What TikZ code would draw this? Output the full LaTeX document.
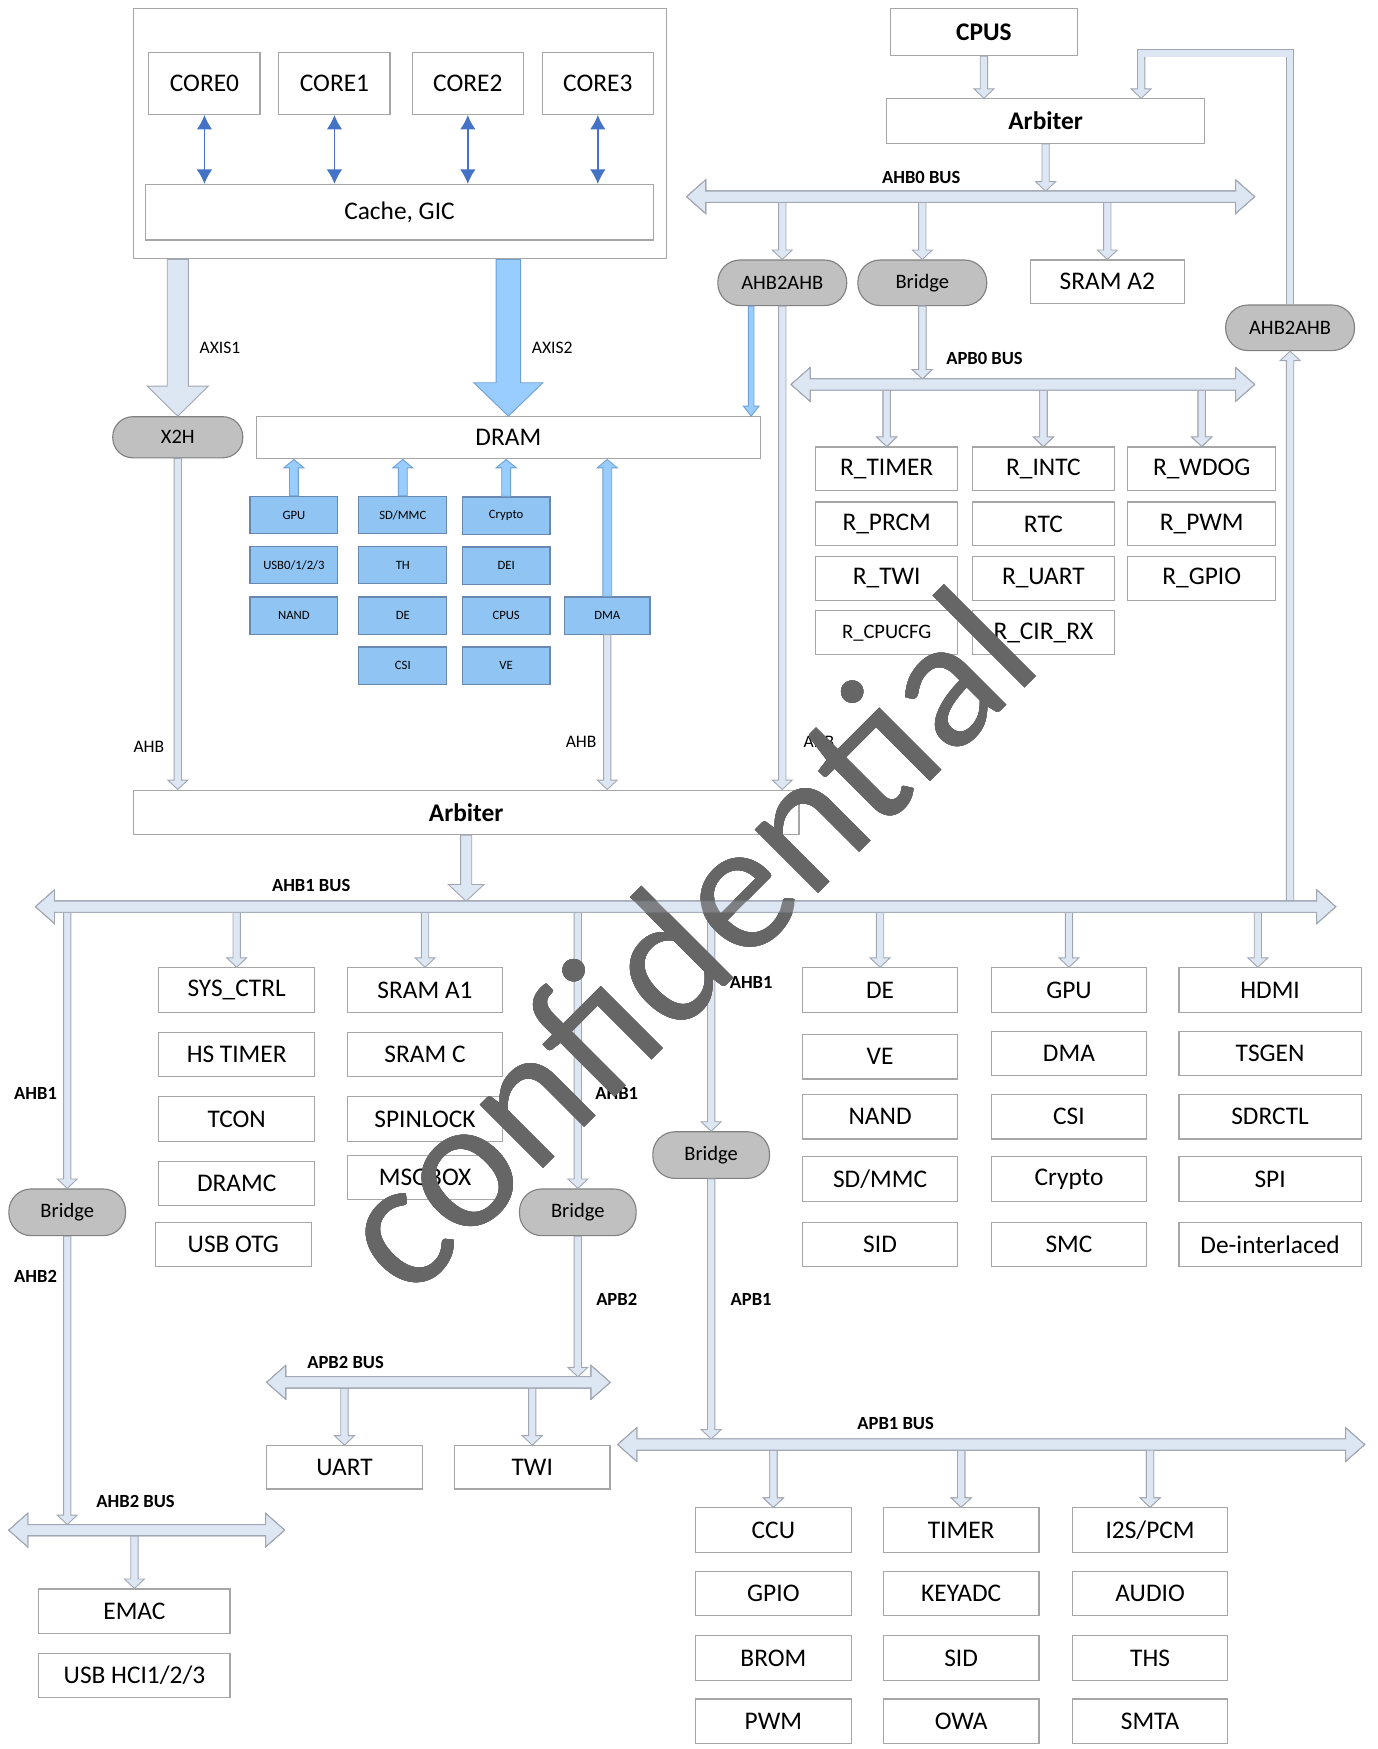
\documentclass[tikz,border=0pt]{standalone}
\usepackage{fontspec}
\setmainfont{Carlito}
\usepackage{tikz}
\usetikzlibrary{arrows.meta,calc,positioning}
\definecolor{rahmen}{RGB}{166,166,166}
\definecolor{rohrrand}{RGB}{160,166,178}
\definecolor{rohrfill}{RGB}{221,231,243}
\definecolor{pillgrau}{RGB}{192,192,192}
\definecolor{pillrand}{RGB}{128,128,128}
\definecolor{blaukasten}{RGB}{143,196,243}
\definecolor{blaurand}{RGB}{105,135,175}
\definecolor{axisblau}{RGB}{153,204,255}
\definecolor{axisrand}{RGB}{110,160,212}
\definecolor{kernblau}{RGB}{68,114,196}
\tikzset{
  kasten/.style={draw=rahmen, line width=0.2mm, fill=white, minimum width=28mm, minimum height=8mm, inner sep=0pt, font=\fontsize{13}{15}\selectfont},
  fett/.style={font=\fontsize{13}{15}\selectfont\bfseries},
  pille/.style={draw=pillrand, line width=0.2mm, fill=pillgrau, rounded corners=4mm, minimum width=23.2mm, minimum height=8.2mm, inner sep=0pt, font=\fontsize{10.5}{12}\selectfont},
  blau/.style={draw=blaurand, line width=0.2mm, fill=blaukasten, minimum width=15.8mm, minimum height=6.7mm, inner sep=0pt, font=\fontsize{6.5}{7}\selectfont},
  busname/.style={font=\fontsize{9.5}{11}\selectfont\bfseries},
  klein/.style={font=\fontsize{9}{10}\selectfont},
  pipe/.style={draw=rohrrand, fill=rohrfill, line width=0.16mm, line join=miter},
  rohrlinie/.style={draw=rohrrand, line width=0.16mm, double=rohrfill, double distance=1.16mm, line join=miter},
  bluepipe/.style={draw=axisrand, fill=axisblau, line width=0.16mm, line join=miter},
  axispfeil/.style={draw=axisrand, fill=axisblau, line width=0.16mm, line join=miter},
  kernpfeil/.style={draw=kernblau, line width=0.25mm, {Latex[length=2.6mm,width=2.8mm]}-{Latex[length=2.6mm,width=2.8mm]}}
}
%#1 Stil, #2 halbe Schaftbreite, #3 halbe Spitzenbreite, #4 Spitzenlaenge, #5 Start, #6 Ende
\newcommand\pfeil[6]{%
  \path ($(#6)!#4!(#5)$) coordinate (pm);
  \draw[#1] ($(#5)!#2!90:(#6)$) -- ($(pm)!#2!90:(#6)$) -- ($(pm)!#3!90:(#6)$) -- (#6)
    -- ($(pm)!#3!-90:(#6)$) -- ($(pm)!#2!-90:(#6)$) -- ($(#5)!#2!-90:(#6)$) -- cycle;}
\newcommand\rohr[2]{\pfeil{pipe}{0.66mm}{1.8mm}{1.7mm}{#1}{#2}}
\newcommand\blaupfeil[2]{\pfeil{bluepipe}{0.8mm}{1.8mm}{1.5mm}{#1}{#2}}
%Bus mit Spitzen an beiden Enden
\newcommand\busleitung[2]{%
  \path ($(#1)!3.4mm!(#2)$) coordinate (ba) ($(#2)!3.4mm!(#1)$) coordinate (bb);
  \draw[pipe] (#1) -- ($(ba)!3mm!90:(#2)$) -- ($(ba)!1mm!90:(#2)$) -- ($(bb)!1mm!90:(#2)$) -- ($(bb)!3mm!90:(#2)$) -- (#2)
    -- ($(bb)!3mm!-90:(#2)$) -- ($(bb)!1mm!-90:(#2)$) -- ($(ba)!1mm!-90:(#2)$) -- ($(ba)!3mm!-90:(#2)$) -- cycle;}
\begin{document}
\begin{tikzpicture}[x=0.2mm,y=-0.2mm]
\useasboundingbox (0,0) rectangle (1240,1574);
%Cluster mit vier Kernen
\node[kasten, minimum width=96mm, minimum height=45mm] (cluster) at (360,120.5) {};
\foreach \i/\x in {0/184,1/301,2/421,3/538}
  \node[kasten, minimum width=20mm, minimum height=11.2mm] (core\i) at (\x,75) {CORE\i};
\node[kasten, minimum width=91.4mm, minimum height=10mm] (cache) at (359.5,191) {Cache, GIC};
\foreach \i in {0,...,3}
  \draw[kernpfeil] (core\i.south) -- (core\i.south |- cache.north);
\node[pille, minimum width=23.4mm, minimum height=7.4mm, rounded corners=3.6mm] (x2h) at (160,393.5) {X2H};
\node[kasten, minimum width=90.6mm, minimum height=7.6mm] (dram) at (457.5,394) {DRAM};
\node[klein] (tax1) at (198,313) {AXIS1};
\node[klein] (tax2) at (497,313) {AXIS2};
%oben rechts
\node[kasten, fett, minimum width=33.8mm, minimum height=8.4mm] (cpus) at (885.5,29) {CPUS};
\node[kasten, fett, minimum width=57.2mm] (arbA) at (941,109) {Arbiter};
\node[pille] (aaL) at (704,254.5) {AHB2AHB};
\node[pille] (brA) at (830,254.5) {Bridge};
\node[kasten, minimum width=27.8mm, minimum height=7.8mm] (sramA2) at (996.5,253.5) {SRAM A2};
\node[pille] (aaR) at (1161,295) {AHB2AHB};
\foreach \n/\t/\x/\y/\b in {rt/R\_TIMER/798/422/25.6, ri/R\_INTC/939/422/25.6, rw/R\_WDOG/1081.5/422/26.6,
    rp/R\_PRCM/798/471.5/25.6, rtc/RTC/939/471.5/25.6, rpwm/R\_PWM/1081.5/471.5/26.6,
    rtwi/R\_TWI/798/520.5/25.6, ruart/R\_UART/939/520.5/25.6, rgpio/R\_GPIO/1081.5/520.5/26.6,
    rcir/R\_CIR\_RX/939/569.5/25.6}
  \node[kasten, minimum width=\b mm, minimum height=7.9mm] (\n) at (\x,\y) {\t};
\node[kasten, minimum width=25.6mm, minimum height=7.9mm, font=\fontsize{10.5}{12}\selectfont] (rcpu) at (798,569.5) {R\_CPUCFG};
%Busmaster zum DRAM
\node[blau] (gpu) at (264.5,463.5) {GPU};
\node[blau] (usb) at (264.5,508.5) {USB0/1/2/3};
\node[blau] (nand) at (264.5,554) {NAND};
\node[blau] (sdmmc) at (362.5,463.5) {SD/MMC};
\foreach \n/\t/\x/\y in {th/TH/362.5/508.5, deA/DE/362.5/554, csi/CSI/362.5/599,
    crypto/Crypto/455.5/464, dei/DEI/455.5/509, cpusA/CPUS/455.5/554, ve/VE/455.5/599}
  \node[blau] (\n) at (\x,\y) {\t};
\node[blau, minimum width=15.4mm] (dmaA) at (546.5,554) {DMA};
\node[kasten, fett, minimum width=119.8mm] (arbB) at (419.5,731) {Arbiter};
\node[klein] (tahbA) at (134,672) {AHB};
\node[klein] (tahbB) at (523,668) {AHB};
\node[klein] (tahbC) at (737,668) {AHB};
%unterer Teil
\node[pille, minimum width=21mm, minimum height=8.4mm] (brL) at (60.5,1091) {Bridge};
\node[pille, minimum width=21mm, minimum height=8.4mm] (brM) at (520,1091) {Bridge};
\node[pille, minimum width=21mm, minimum height=8.4mm] (brR) at (640,1039.5) {Bridge};
\node[kasten] (sysctrl) at (213,891) {SYS\_CTRL};
\node[kasten, below=3.4mm of sysctrl] (hstimer) {HS TIMER};
\node[kasten, below=3.4mm of hstimer] (tcon) {TCON};
\node[kasten, below=3.4mm of tcon] (dramc) {DRAMC};
\node[kasten] (usbotg) at (210,1120) {USB OTG};
\node[kasten, minimum width=27.8mm] (sramA1) at (382.5,891) {SRAM A1};
\node[kasten, minimum width=27.8mm, below=3.4mm of sramA1] (sramC) {SRAM C};
\node[kasten, minimum width=27.8mm, below=3.4mm of sramC] (spin) {SPINLOCK};
\node[kasten, minimum width=27.8mm] (msg) at (382.5,1059.5) {MSGBOX};
\foreach \n/\t/\x/\y in {deB/DE/792/891, veB/VE/792/951, nandB/NAND/792/1005, sidA/SID/792/1120,
    gpuB/GPU/962/891, dmaB/DMA/962/948, csiB/CSI/962/1005, cryptoB/Crypto/962/1061, smc/SMC/962/1120}
  \node[kasten] (\n) at (\x,\y) {\t};
\node[kasten] (sdmmcB) at (792,1061) {SD/MMC};
\foreach \n/\t/\y in {hdmi/HDMI/891, tsgen/TSGEN/948, sdrctl/SDRCTL/1005, spi/SPI/1061, deint/De-interlaced/1120}
  \node[kasten, minimum width=32.8mm] (\n) at (1143,\y) {\t};
\node[busname] (tl1) at (32,984) {AHB1};
\node[busname] (tl2) at (555,984) {AHB1};
\node[busname] (tl3) at (676,884) {AHB1};
\node[busname] (tl4) at (32,1149) {AHB2};
\node[busname] (tl5) at (555,1169) {APB2};
\node[busname] (tl6) at (676,1169) {APB1};
\node[kasten, minimum width=34.4mm] (emac) at (121,1450) {EMAC};
\node[kasten, minimum width=34.4mm, below=3.4mm of emac] (usbhci) {USB HCI1/2/3};
\node[kasten, minimum height=7.8mm] (uart) at (310,1320.5) {UART};
\node[kasten, minimum height=7.8mm] (twi) at (479,1320.5) {TWI};
\foreach \n/\t/\x/\y in {ccu/CCU/696/1377, gpio/GPIO/696/1434, brom/BROM/696/1492, pwm/PWM/696/1549,
    timer/TIMER/865/1377, keyadc/KEYADC/865/1434, sidB/SID/865/1492, owa/OWA/865/1549,
    audio/AUDIO/1035/1434, ths/THS/1035/1492, smta/SMTA/1035/1549}
  \node[kasten] (\n) at (\x,\y) {\t};
\node[kasten] (i2s) at (1035,1377) {I2S/PCM};
%Busse: Mitte und Oberkante
\coordinate (ahb0l) at (618,177);  \coordinate (ahb0r) at (1129,177);  \coordinate (ahb0o) at (618,172);
\coordinate (apb0l) at (712,346);  \coordinate (apb0r) at (1129,346);  \coordinate (apb0o) at (712,341);
\coordinate (ahb1l) at (32,816);   \coordinate (ahb1r) at (1202,816);  \coordinate (ahb1o) at (32,811);
\coordinate (ahb2l) at (8,1377);   \coordinate (ahb2r) at (256,1377);  \coordinate (ahb2o) at (8,1372);
\coordinate (apb2l) at (240,1244); \coordinate (apb2r) at (549,1244);  \coordinate (apb2o) at (240,1239);
\coordinate (apb1l) at (556,1300); \coordinate (apb1r) at (1228,1300); \coordinate (apb1o) at (556,1295);
\node[busname] (tb0) at (829,160) {AHB0 BUS};
\node[busname] (tb1) at (886,323) {APB0 BUS};
\node[busname] (tb2) at (280,797) {AHB1 BUS};
\node[busname] (tb3) at (122,1351) {AHB2 BUS};
\node[busname] (tb4) at (311,1226) {APB2 BUS};
\node[busname] (tb5) at (806,1281) {APB1 BUS};
%breite Pfeile
\pfeil{pipe}{1.9mm}{5.5mm}{5.4mm}{x2h.north |- cluster.south}{x2h.north}
\pfeil{axispfeil}{2.2mm}{6.2mm}{6mm}{dram.north |- cluster.south}{dram.north}
\pfeil{pipe}{1mm}{3.2mm}{3mm}{arbB.south}{arbB.south |- ahb1o}
%Zugriffe auf den DRAM
\foreach \z in {gpu,sdmmc,crypto,dmaA}
  \blaupfeil{\z.north}{\z.north |- dram.south}
\path (aaL.south) ++(-28,0) coordinate (aad);
\pfeil{bluepipe}{0.5mm}{1.4mm}{1.8mm}{aad}{aad |- dram.north}
%Leitungen
\rohr{cpus.south}{cpus.south |- arbA.north}
\rohr{arbA.south}{arbA.south |- ahb0o}
\foreach \z in {aaL,brA,sramA2}
  \rohr{\z.north |- ahb0l}{\z.north}
\rohr{brA.south}{brA.south |- apb0o}
\foreach \z in {rt,ri,rw}
  \rohr{\z.north |- apb0l}{\z.north}
\coordinate (lp) at (1027,48);
\rohr{lp}{lp |- arbA.north}
\draw[rohrlinie] (aaR.north) |- (lp) -- ++(0,6);
\rohr{x2h.south}{x2h.south |- arbB.north}
\rohr{dmaA.south}{dmaA.south |- arbB.north}
\rohr{aaL.south}{aaL.south |- arbB.north}
\rohr{aaR.south |- ahb1l}{aaR.south}
\foreach \z in {brL,sysctrl,sramA1,brM,brR,deB,gpuB}
  \rohr{\z.north |- ahb1l}{\z.north}
\coordinate (hd) at (1132,0);
\rohr{hd |- ahb1l}{hd |- hdmi.north}
\rohr{brL.south}{brL.south |- ahb2o}
\rohr{brM.south}{brM.south |- apb2o}
\rohr{brR.south}{brR.south |- apb1o}
\rohr{emac.north |- ahb2l}{emac.north}
\foreach \z in {uart,twi}
  \rohr{\z.north |- apb2l}{\z.north}
\foreach \z in {ccu,timer,i2s}
  \rohr{\z.north |- apb1l}{\z.north}
\busleitung{ahb0l}{ahb0r}
\busleitung{apb0l}{apb0r}
\busleitung{ahb1l}{ahb1r}
\busleitung{ahb2l}{ahb2r}
\busleitung{apb2l}{apb2r}
\busleitung{apb1l}{apb1r}
%Wasserzeichen
\node[rotate=45, text=black!60, text opacity=0.8, font=\fontsize{96}{96}\selectfont] (wz) at (614,845) {confidential};
\end{tikzpicture}
\end{document}
